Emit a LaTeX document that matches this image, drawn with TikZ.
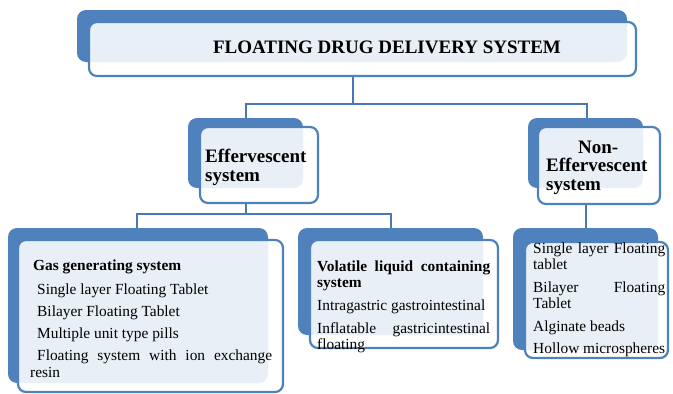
\documentclass[tikz,border=0pt]{standalone}
\usepackage{fontspec}
\setmainfont{Liberation Serif}
\usetikzlibrary{positioning,backgrounds}
\definecolor{boxblue}{RGB}{79,129,189}
\definecolor{linkblue}{RGB}{74,120,181}

\tikzset{
  backbox/.style={fill=boxblue, rounded corners=9pt, inner sep=0pt},
  frontbox/.style={draw=boxblue, line width=2.2pt, fill=white, fill opacity=0.88,
    rounded corners=8pt, inner sep=0pt},
  link/.style={draw=linkblue, line width=2pt},
  headtext/.style={inner sep=0pt, font=\fontsize{19}{18.5}\selectfont\bfseries},
  bodytext/.style={inner sep=0pt, anchor=north west, align=justify,
    font=\fontsize{15.4}{16}\selectfont},
}

\begin{document}
\begin{tikzpicture}[x=1pt,y=-1pt]
  \useasboundingbox (0,0) rectangle (673,394);
  % shadow boxes behind
  \node[backbox, minimum width=550, minimum height=52] (topback) at (352,36) {};
  \node[backbox, minimum width=115, minimum height=70] (effback) at (245.5,153) {};
  \node[backbox, minimum width=115, minimum height=70] (noneffback) at (585.5,153) {};
  \node[backbox, minimum width=260, minimum height=155] (gasback) at (138,305.5) {};
  \node[backbox, minimum width=185, minimum height=107] (volback) at (390.5,281.5) {};
  \node[backbox, minimum width=145, minimum height=122] (listback) at (585.5,289) {};
  % front boxes
  \node[frontbox, minimum width=547, minimum height=54] (top) at (362.5,49) {};
  \node[frontbox, minimum width=118, minimum height=76] (eff) at (259,165) {};
  \node[frontbox, minimum width=122, minimum height=77] (noneff) at (599,165.5) {};
  \node[frontbox, minimum width=265, minimum height=152] (gas) at (150.5,316) {};
  \node[frontbox, minimum width=188, minimum height=108] (vol) at (404,294) {};
  \node[frontbox, minimum width=143, minimum height=116] (list) at (596.5,300) {};
  % texts
  \node[headtext] (toptext) at (387,47) {FLOATING DRUG DELIVERY SYSTEM};
  \node[headtext, anchor=north west, align=left] (efftext) at (205,149)
    {Effervescent\\system};
  \node[headtext, anchor=north west, align=left, text width=104] (nefftext) at (546,140.5)
    {\hfill Non-\hfill\null\\Effervescent\\system};
  \node[bodytext, text width=242, font=\fontsize{15.4}{17}\selectfont] (gastext) at (30,259.5)
    {\hspace*{3pt}\textbf{Gas generating system}\\[7pt]
     \hspace*{7pt}Single layer Floating Tablet\\[5pt]
     \hspace*{7pt}Bilayer Floating Tablet\\[5pt]
     \hspace*{7pt}Multiple unit type pills\\[5pt]
     \hspace*{7pt}Floating\hfill system\hfill with\hfill ion\hfill exchange\\
     resin};
  \node[bodytext, text width=173] (voltext) at (317,260.5)
    {\textbf{Volatile\hfill liquid\hfill containing}\\
     \textbf{system}\\[7pt]
     Intragastric gastrointestinal\\[7pt]
     Inflatable\hfill gastricintestinal\\
     floating};
  \node[bodytext, text width=132] (listtext) at (533,242.5)
    {Single\hfill layer\hfill Floating\\
     tablet\\[7pt]
     Bilayer\hfill Floating\\
     Tablet\\[7pt]
     Alginate beads\\[6pt]
     Hollow microspheres};
  % connectors
  \begin{pgfonlayer}{background}
    \draw[link] ([xshift=-9.5pt]top.south) -- ++(0,27) coordinate (split1);
    \draw[link] (split1) -| ([xshift=-13pt]eff.north);
    \draw[link] (split1) -| ([xshift=-12.5pt]noneff.north);
    \draw[link] ([xshift=-13pt]eff.south) -- ++(0,10) coordinate (split2);
    \draw[link] (split2) -| ([xshift=-13.5pt]gas.north);
    \draw[link] (split2) -| ([xshift=-13pt]vol.north);
    \draw[link] ([xshift=-13pt]noneff.south) -- ([xshift=-10.5pt]list.north);
  \end{pgfonlayer}
\end{tikzpicture}
\end{document}
